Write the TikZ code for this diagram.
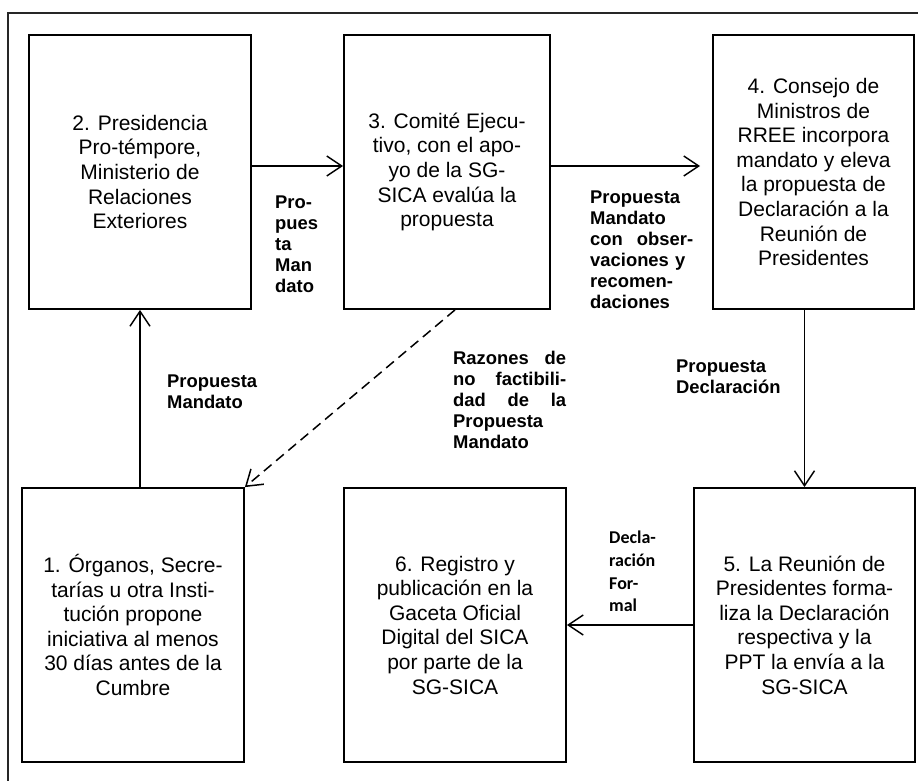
\documentclass[tikz,border=0pt]{standalone}
\usepackage{fontspec}
\setmainfont{Liberation Sans}
\newfontfamily\calibri{Carlito}
\usetikzlibrary{arrows.meta}
\newcommand{\bw}{222}
\newcommand{\bh}{274}
\tikzstyle{caja}=[draw,line width=1.8pt,minimum height=\bh pt,align=center,inner sep=0pt,font=\fontsize{21}{24.6}\selectfont]
\tikzstyle{flecha}=[line width=1.5pt,-{Straight Barb[length=15pt,width=20pt]}]
\tikzstyle{etiq}=[anchor=north west,inner sep=0pt,align=left,font=\bfseries\fontsize{18.4}{21}\selectfont]

\begin{document}
\begin{tikzpicture}[x=1pt,y=-1pt]

\useasboundingbox (0,0) rectangle (918,781);
\draw[line width=2pt,black!85] (8,781) -- (8,13) -- (918,13);

% fila de arriba
\node[caja,minimum width=\bw pt] (pres) at (140,172)
  {2. Presidencia\\Pro-témpore,\\Ministerio de\\Relaciones\\Exteriores};
\node[caja,minimum width=206pt] (comite) at (447,172)
  {3. Comité Ejecu-\\tivo, con el apo-\\yo de la SG-\\SICA evalúa la\\propuesta};
\node[caja,minimum width=201pt] (consejo) at (813.5,172)
  {4. Consejo de\\Ministros de\\RREE incorpora\\mandato y eleva\\la propuesta de\\Declaración a la\\Reunión de\\Presidentes};

% fila de abajo
\node[caja,minimum width=\bw pt] (organos) at (133,625)
  {1. Órganos, Secre-\\tarías u otra Insti-\\tución propone\\iniciativa al menos\\30 días antes de la\\Cumbre};
\node[caja,minimum width=\bw pt] (registro) at (455,625)
  {6. Registro y\\publicación en la\\Gaceta Oficial\\Digital del SICA\\por parte de la\\SG-SICA};
\node[caja,minimum width=221pt] (reunion) at (804.5,625)
  {5. La Reunión de\\Presidentes forma-\\liza la Declaración\\respectiva y la\\PPT la envía a la\\SG-SICA};

\draw[flecha] ([yshift=6pt]pres.east) -- ([yshift=6pt]comite.west);
\draw[flecha,shorten >=12pt] ([yshift=6pt]comite.east) -- ([yshift=6pt]consejo.west);
\draw[flecha] (reunion.north |- consejo.south) -- (reunion.north);
\draw[flecha] (reunion.west) -- (registro.east);
\draw[flecha] (pres.south |- organos.north) -- (pres.south);
\draw[flecha,dash pattern=on 10pt off 6pt] ([xshift=8pt]comite.south) -- (organos.north east);

% etiquetas
\node[etiq] (eti23) at (275,196) {Pro-\\pues\\ta\\Man\\dato};
\node[etiq,text width=103pt] (eti34) at (590,191)
  {Propuesta\\Mandato\\con\hfill obser-\\vaciones y\\recomen-\\daciones};
\node[etiq] (eti12) at (167,375) {Propuesta\\Mandato};
\node[etiq,text width=113pt] (eti31) at (453,351)
  {Razones\hfill de\\no\hfill factibili-\\dad\hfill de\hfill la\\Propuesta\\Mandato};
\node[etiq] (eti45) at (676,360) {Propuesta\\Declaración};
\node[etiq,font=\calibri\bfseries\fontsize{18}{22.7}\selectfont] (eti56) at (609,531)
  {Decla-\\ración\\For-\\mal};

\end{tikzpicture}
\end{document}
